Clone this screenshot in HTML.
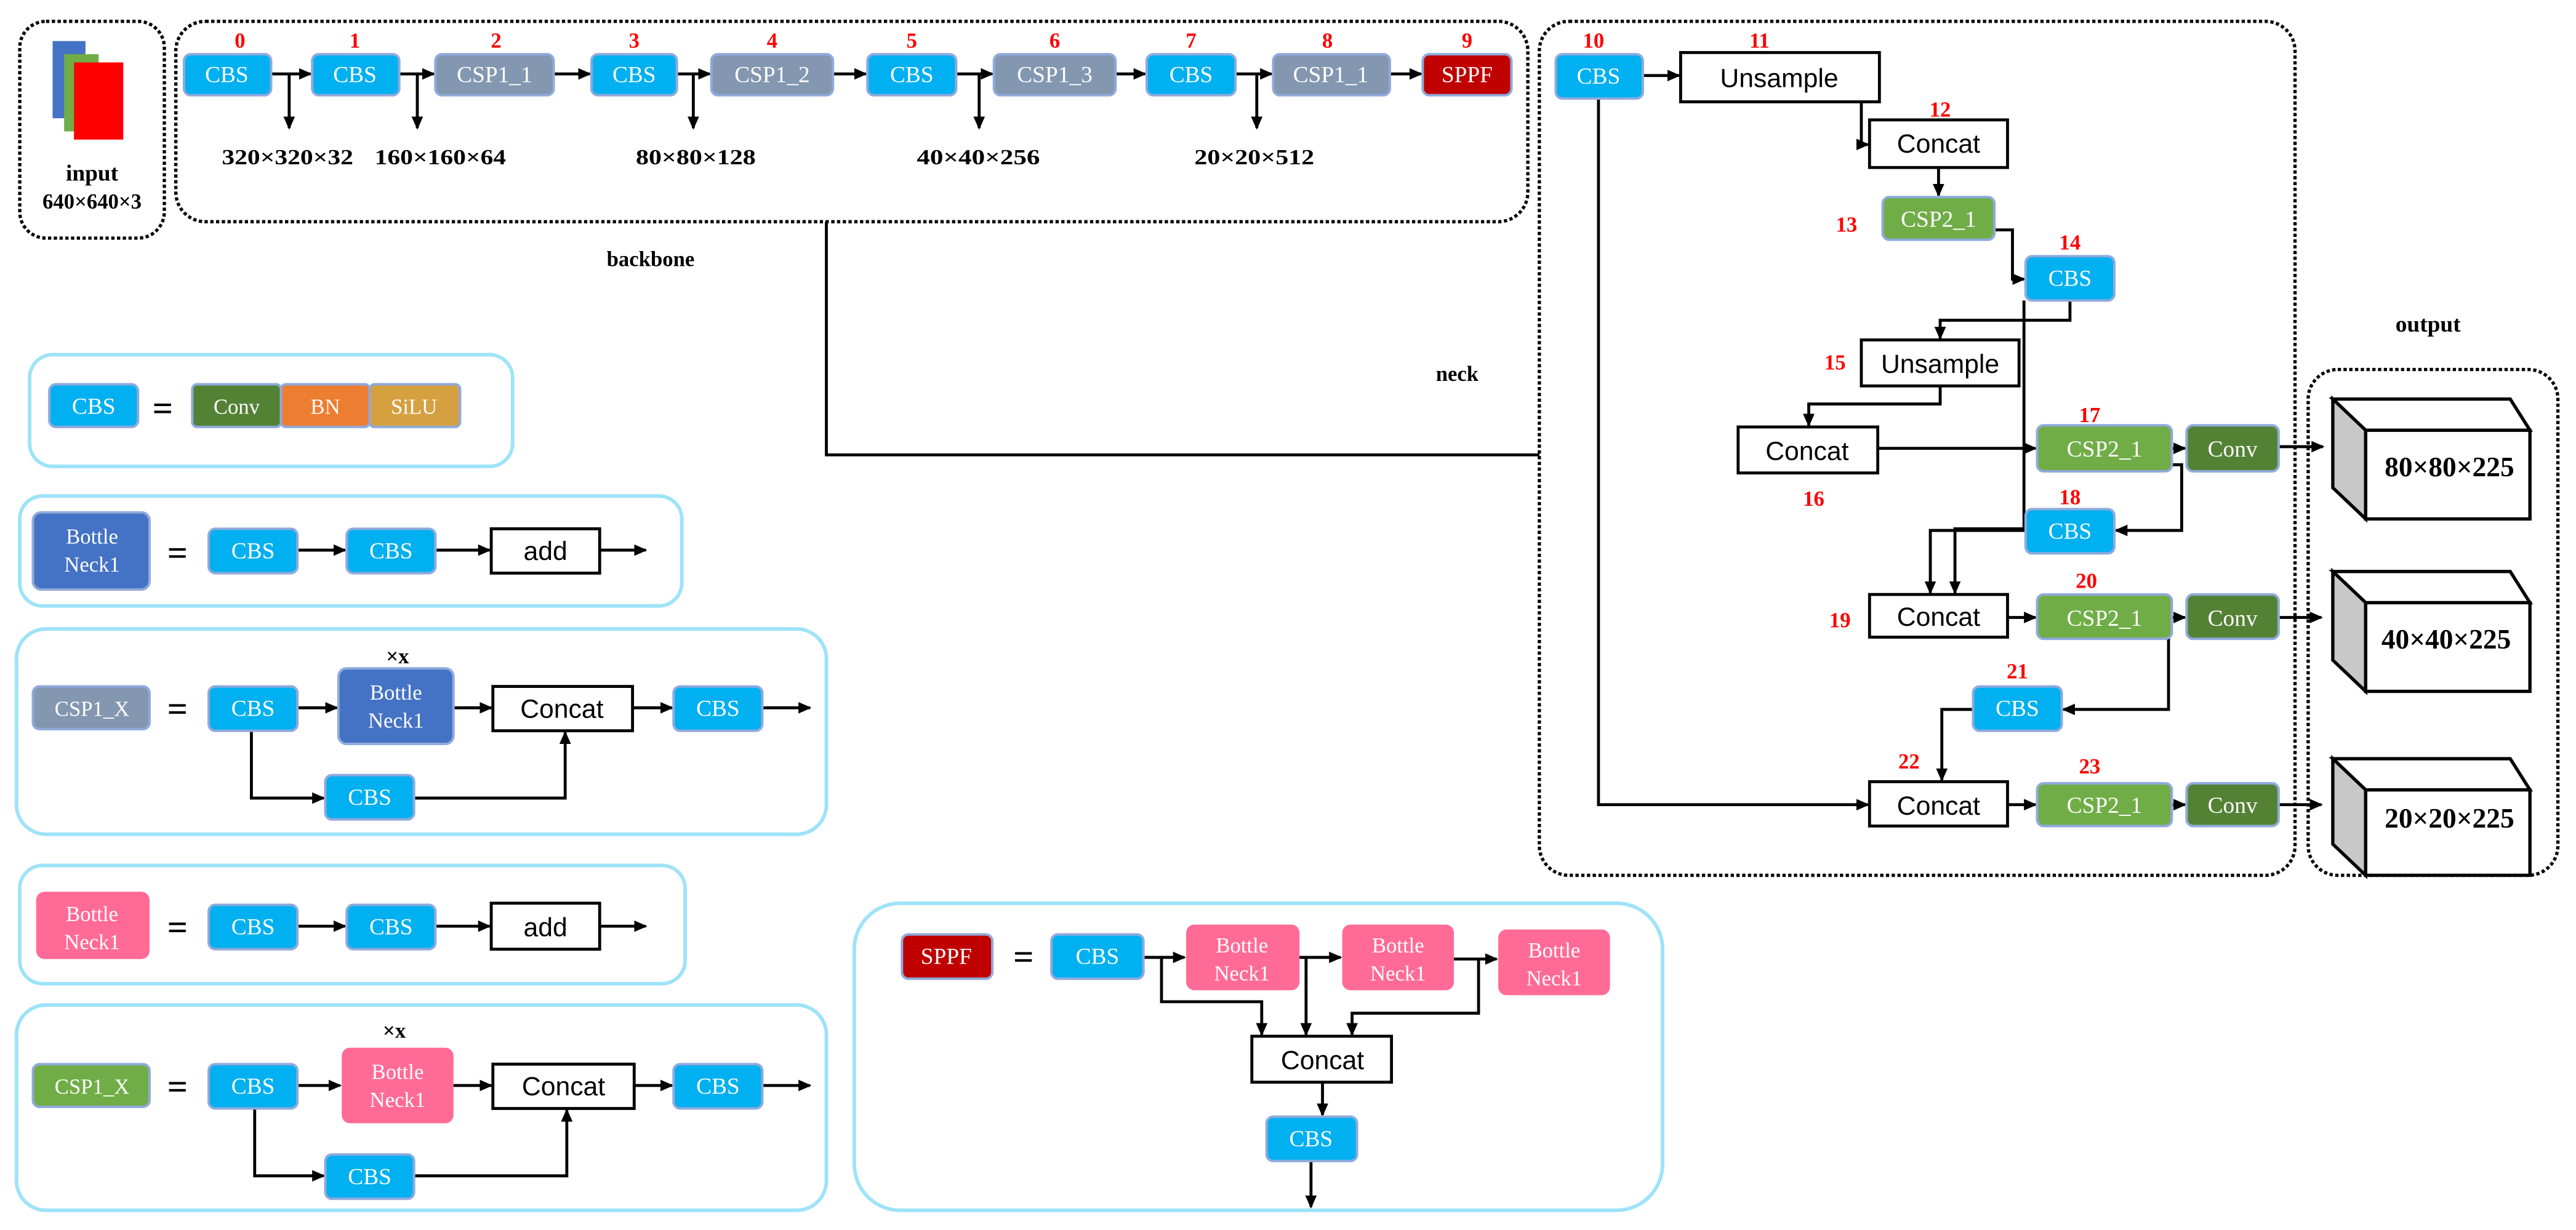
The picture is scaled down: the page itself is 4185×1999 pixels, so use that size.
<!DOCTYPE html>
<html><head><meta charset="utf-8"><style>
html,body{margin:0;padding:0;background:#fff;}
svg{display:block;}
.s{font-family:"Liberation Serif",serif;}
.a{font-family:"Liberation Sans",sans-serif;}
</style></head><body>
<svg width="4185" height="1999" viewBox="0 0 1568 749" xmlns="http://www.w3.org/2000/svg">
<defs>
<marker id="ar" markerWidth="8" markerHeight="8" refX="7" refY="4" orient="auto" markerUnits="userSpaceOnUse">
<path d="M0,0.5 L8,4 L0,7.5 z" fill="#000"/></marker>
</defs>
<g fill="none" stroke="#000" stroke-width="2" stroke-dasharray="2,1.5">
<rect x="12" y="13" width="88" height="132" rx="16"/>
<rect x="107" y="13" width="823" height="122" rx="18"/>
<rect x="937" y="13" width="460" height="520" rx="18"/>
<rect x="1405" y="225" width="152" height="308" rx="18"/>
</g>
<rect x="32" y="25" width="20" height="47" fill="#4472c4"/>
<rect x="39" y="33" width="21" height="47" fill="#70ad47"/>
<rect x="45" y="38" width="30" height="47" fill="#ff0000"/>
<g class="s" font-weight="bold" text-anchor="middle" fill="#000">
<text x="56" y="110" font-size="14">input</text>
<text x="56" y="127" font-size="13">640×640×3</text>
<text x="396" y="162" font-size="13">backbone</text>
<text x="887" y="232" font-size="13">neck</text>
<text x="1478" y="202" font-size="14">output</text>
</g>
<g class="s" font-weight="bold" font-size="13" fill="#000" textLength="80">
<text x="135" y="100" textLength="80" lengthAdjust="spacingAndGlyphs">320×320×32</text>
<text x="228" y="100" textLength="80" lengthAdjust="spacingAndGlyphs">160×160×64</text>
<text x="387" y="100" textLength="73" lengthAdjust="spacingAndGlyphs">80×80×128</text>
<text x="558" y="100" textLength="75" lengthAdjust="spacingAndGlyphs">40×40×256</text>
<text x="727" y="100" textLength="73" lengthAdjust="spacingAndGlyphs">20×20×512</text>
</g>
<g stroke="#000" stroke-width="1.8" fill="none">
<line x1="165" y1="45" x2="189" y2="45" marker-end="url(#ar)"/>
<line x1="243" y1="45" x2="264" y2="45" marker-end="url(#ar)"/>
<line x1="337" y1="45" x2="359" y2="45" marker-end="url(#ar)"/>
<line x1="412" y1="45" x2="432" y2="45" marker-end="url(#ar)"/>
<line x1="507" y1="45" x2="527" y2="45" marker-end="url(#ar)"/>
<line x1="582" y1="45" x2="604" y2="45" marker-end="url(#ar)"/>
<line x1="679" y1="45" x2="697" y2="45" marker-end="url(#ar)"/>
<line x1="752" y1="45" x2="774" y2="45" marker-end="url(#ar)"/>
<line x1="846" y1="45" x2="865" y2="45" marker-end="url(#ar)"/>
<line x1="176" y1="45" x2="176" y2="78" marker-end="url(#ar)"/>
<line x1="254" y1="45" x2="254" y2="78" marker-end="url(#ar)"/>
<line x1="422" y1="45" x2="422" y2="78" marker-end="url(#ar)"/>
<line x1="596" y1="45" x2="596" y2="78" marker-end="url(#ar)"/>
<line x1="765" y1="45" x2="765" y2="78" marker-end="url(#ar)"/>
<polyline points="503,135 503,277 937,277"/>
<line x1="1000" y1="46" x2="1022" y2="46" marker-end="url(#ar)"/>
<polyline points="1133,62 1133,88 1137,88" marker-end="url(#ar)"/>
<line x1="1180" y1="102" x2="1180" y2="119" marker-end="url(#ar)"/>
<polyline points="1214,140 1225,140 1225,170 1232,170" marker-end="url(#ar)"/>
<polyline points="1260,183 1260,195 1181,195 1181,206" marker-end="url(#ar)"/>
<polyline points="1232,183 1232,322 1190,322 1190,361" marker-end="url(#ar)"/>
<polyline points="1181,235 1181,246 1101,246 1101,259" marker-end="url(#ar)"/>
<line x1="1143" y1="273" x2="1239" y2="273" marker-end="url(#ar)"/>
<line x1="1322" y1="273" x2="1330" y2="273" marker-end="url(#ar)"/>
<line x1="1387" y1="272" x2="1414" y2="272" marker-end="url(#ar)"/>
<polyline points="1322,283 1328,283 1328,323 1288,323" marker-end="url(#ar)"/>
<polyline points="1233,323 1175,323 1175,361" marker-end="url(#ar)"/>
<line x1="1222" y1="376" x2="1239" y2="376" marker-end="url(#ar)"/>
<line x1="1322" y1="376" x2="1330" y2="376" marker-end="url(#ar)"/>
<line x1="1387" y1="376" x2="1413" y2="376" marker-end="url(#ar)"/>
<polyline points="1322,385 1320,385 1320,432 1256,432" marker-end="url(#ar)"/>
<polyline points="1201,432 1182,432 1182,475" marker-end="url(#ar)"/>
<polyline points="973,60 973,490 1137,490" marker-end="url(#ar)"/>
<line x1="1222" y1="490" x2="1239" y2="490" marker-end="url(#ar)"/>
<line x1="1322" y1="490" x2="1330" y2="490" marker-end="url(#ar)"/>
<line x1="1387" y1="490" x2="1413" y2="490" marker-end="url(#ar)"/>
<line x1="181" y1="335" x2="210" y2="335" marker-end="url(#ar)"/>
<line x1="265" y1="335" x2="298" y2="335" marker-end="url(#ar)"/>
<line x1="365" y1="335" x2="393" y2="335" marker-end="url(#ar)"/>
<line x1="181" y1="431" x2="205" y2="431" marker-end="url(#ar)"/>
<line x1="276" y1="431" x2="299" y2="431" marker-end="url(#ar)"/>
<line x1="385" y1="431" x2="409" y2="431" marker-end="url(#ar)"/>
<line x1="464" y1="431" x2="493" y2="431" marker-end="url(#ar)"/>
<polyline points="153,445 153,486 197,486" marker-end="url(#ar)"/>
<polyline points="252,486 344,486 344,446" marker-end="url(#ar)"/>
<line x1="181" y1="564" x2="210" y2="564" marker-end="url(#ar)"/>
<line x1="265" y1="564" x2="298" y2="564" marker-end="url(#ar)"/>
<line x1="365" y1="564" x2="393" y2="564" marker-end="url(#ar)"/>
<line x1="181" y1="661" x2="207" y2="661" marker-end="url(#ar)"/>
<line x1="276" y1="661" x2="299" y2="661" marker-end="url(#ar)"/>
<line x1="386" y1="661" x2="409" y2="661" marker-end="url(#ar)"/>
<line x1="464" y1="661" x2="493" y2="661" marker-end="url(#ar)"/>
<polyline points="155,675 155,716 197,716" marker-end="url(#ar)"/>
<polyline points="252,716 345,716 345,676" marker-end="url(#ar)"/>
<line x1="696" y1="583" x2="721" y2="583" marker-end="url(#ar)"/>
<line x1="791" y1="583" x2="816" y2="583" marker-end="url(#ar)"/>
<line x1="885" y1="584" x2="911" y2="584" marker-end="url(#ar)"/>
<polyline points="707,583 707,610 768,610 768,630" marker-end="url(#ar)"/>
<line x1="795" y1="583" x2="795" y2="630" marker-end="url(#ar)"/>
<polyline points="900,584 900,617 823,617 823,630" marker-end="url(#ar)"/>
<line x1="805" y1="659" x2="805" y2="679" marker-end="url(#ar)"/>
<line x1="798" y1="707" x2="798" y2="735" marker-end="url(#ar)"/>
</g>
<g fill="none" stroke="#9ee3f8" stroke-width="2.2">
<rect x="18" y="216" width="294" height="68" rx="14"/>
<rect x="12" y="302" width="403" height="67" rx="14"/>
<rect x="10" y="383" width="493" height="125" rx="18"/>
<rect x="12" y="527" width="405" height="72" rx="14"/>
<rect x="10" y="612" width="493" height="125" rx="18"/>
<rect x="520" y="550" width="492" height="187" rx="28"/>
</g>
<g fill="#fff" stroke="#000" stroke-width="1.8">
<rect x="1023" y="32" width="121" height="30"/>
<rect x="1138" y="73" width="84" height="29"/>
<rect x="1133" y="207" width="96" height="28"/>
<rect x="1058" y="260" width="85" height="28"/>
<rect x="1138" y="362" width="84" height="26"/>
<rect x="1138" y="476" width="84" height="27"/>
<rect x="299" y="322" width="66" height="27"/>
<rect x="300" y="418" width="85" height="27"/>
<rect x="299" y="550" width="66" height="28"/>
<rect x="300" y="648" width="86" height="27"/>
<rect x="762" y="631" width="85" height="28"/>
</g>
<g class="a" font-size="16" fill="#000" text-anchor="middle">
<text x="1083" y="53">Unsample</text>
<text x="1180" y="93">Concat</text>
<text x="1181" y="227">Unsample</text>
<text x="1100" y="280">Concat</text>
<text x="1180" y="381">Concat</text>
<text x="1180" y="496">Concat</text>
<text x="332" y="341">add</text>
<text x="342" y="437">Concat</text>
<text x="332" y="570">add</text>
<text x="343" y="667">Concat</text>
<text x="805" y="651">Concat</text>
</g>
<g stroke="#8faadc" stroke-width="1.5">
<g fill="#00b0f0">
<rect x="112" y="33" width="53" height="25" rx="4"/>
<rect x="190" y="33" width="53" height="25" rx="4"/>
<rect x="360" y="33" width="52" height="25" rx="4"/>
<rect x="528" y="33" width="54" height="25" rx="4"/>
<rect x="698" y="33" width="54" height="25" rx="4"/>
<rect x="947" y="33" width="53" height="27" rx="4"/>
<rect x="1233" y="156" width="54" height="27" rx="4"/>
<rect x="1233" y="310" width="54" height="27" rx="4"/>
<rect x="1201" y="418" width="54" height="27" rx="4"/>
<rect x="30" y="234" width="54" height="26" rx="4"/>
<rect x="127" y="322" width="54" height="27" rx="4"/>
<rect x="211" y="322" width="54" height="27" rx="4"/>
<rect x="127" y="418" width="54" height="27" rx="4"/>
<rect x="410" y="418" width="54" height="27" rx="4"/>
<rect x="198" y="472" width="54" height="27" rx="4"/>
<rect x="127" y="551" width="54" height="27" rx="4"/>
<rect x="211" y="551" width="54" height="27" rx="4"/>
<rect x="127" y="648" width="54" height="27" rx="4"/>
<rect x="410" y="648" width="54" height="27" rx="4"/>
<rect x="198" y="703" width="54" height="27" rx="4"/>
<rect x="640" y="569" width="56" height="27" rx="4"/>
<rect x="771" y="680" width="55" height="27" rx="4"/>
</g>
<g fill="#8497b0">
<rect x="265" y="33" width="72" height="25" rx="4"/>
<rect x="433" y="33" width="74" height="25" rx="4"/>
<rect x="605" y="33" width="74" height="25" rx="4"/>
<rect x="775" y="33" width="71" height="25" rx="4"/>
<rect x="20" y="418" width="71" height="26" rx="4"/>
</g>
<g fill="#70ad47">
<rect x="1146" y="120" width="68" height="26" rx="4"/>
<rect x="1240" y="259" width="82" height="28" rx="4"/>
<rect x="1240" y="362" width="82" height="27" rx="4"/>
<rect x="1240" y="477" width="82" height="26" rx="4"/>
<rect x="20" y="648" width="71" height="26" rx="4"/>
</g>
<g fill="#548235">
<rect x="1331" y="259" width="56" height="28" rx="4"/>
<rect x="1331" y="362" width="56" height="27" rx="4"/>
<rect x="1331" y="477" width="56" height="26" rx="4"/>
<rect x="117" y="234" width="54" height="26" rx="3"/>
</g>
<rect x="171" y="234" width="54" height="26" rx="3" fill="#ed7d31"/>
<rect x="225" y="234" width="55" height="26" rx="3" fill="#d4a040"/>
<rect x="866" y="33" width="54" height="25" rx="4" fill="#c00000"/>
<rect x="549" y="569" width="55" height="27" rx="4" fill="#c00000"/>
<rect x="20" y="312" width="71" height="47" rx="5" fill="#4472c4"/>
<rect x="206" y="407" width="70" height="46" rx="5" fill="#4472c4"/>
</g>
<g fill="#ff6b96">
<rect x="22" y="543" width="69" height="41" rx="5"/>
<rect x="208" y="638" width="68" height="46" rx="5"/>
<rect x="722" y="563" width="69" height="40" rx="5"/>
<rect x="817" y="563" width="68" height="40" rx="5"/>
<rect x="912" y="566" width="68" height="40" rx="5"/>
</g>
<g class="s" fill="#fff" font-size="14" text-anchor="middle">
<text x="138" y="50">CBS</text><text x="216" y="50">CBS</text>
<text x="301" y="50">CSP1_1</text><text x="386" y="50">CBS</text>
<text x="470" y="50">CSP1_2</text><text x="555" y="50">CBS</text>
<text x="642" y="50">CSP1_3</text><text x="725" y="50">CBS</text>
<text x="810" y="50">CSP1_1</text><text x="893" y="50">SPPF</text>
<text x="973" y="51">CBS</text><text x="1180" y="138">CSP2_1</text>
<text x="1260" y="174">CBS</text><text x="1281" y="278">CSP2_1</text>
<text x="1359" y="278">Conv</text><text x="1260" y="328">CBS</text>
<text x="1281" y="381">CSP2_1</text><text x="1359" y="381">Conv</text>
<text x="1228" y="436">CBS</text><text x="1281" y="495">CSP2_1</text>
<text x="1359" y="495">Conv</text>
<text x="57" y="252">CBS</text>
<text x="144" y="252" font-size="13">Conv</text>
<text x="198" y="252" font-size="13">BN</text>
<text x="252" y="252" font-size="13">SiLU</text>
<text x="56" y="331" font-size="13">Bottle</text><text x="56" y="348" font-size="13">Neck1</text>
<text x="154" y="340">CBS</text><text x="238" y="340">CBS</text>
<text x="56" y="436" font-size="13">CSP1_X</text>
<text x="154" y="436">CBS</text>
<text x="241" y="426" font-size="13">Bottle</text><text x="241" y="443" font-size="13">Neck1</text>
<text x="437" y="436">CBS</text><text x="225" y="490">CBS</text>
<text x="56" y="561" font-size="13">Bottle</text><text x="56" y="578" font-size="13">Neck1</text>
<text x="154" y="569">CBS</text><text x="238" y="569">CBS</text>
<text x="56" y="666" font-size="13">CSP1_X</text>
<text x="154" y="666">CBS</text>
<text x="242" y="657" font-size="13">Bottle</text><text x="242" y="674" font-size="13">Neck1</text>
<text x="437" y="666">CBS</text><text x="225" y="721">CBS</text>
<text x="576" y="587">SPPF</text><text x="668" y="587">CBS</text>
<text x="756" y="580" font-size="13">Bottle</text><text x="756" y="597" font-size="13">Neck1</text>
<text x="851" y="580" font-size="13">Bottle</text><text x="851" y="597" font-size="13">Neck1</text>
<text x="946" y="583" font-size="13">Bottle</text><text x="946" y="600" font-size="13">Neck1</text>
<text x="798" y="698">CBS</text>
</g>
<g class="s" font-weight="bold" font-size="22" fill="#000" text-anchor="middle">
<text x="99" y="256">=</text><text x="108" y="344">=</text><text x="108" y="439">=</text>
<text x="108" y="572">=</text><text x="108" y="669">=</text><text x="623" y="590">=</text>
</g>
<g class="s" font-weight="bold" font-size="13" fill="#000" text-anchor="middle">
<text x="242" y="404">×x</text><text x="240" y="632">×x</text>
</g>
<g class="s" font-weight="bold" font-size="13" fill="#ff0000" text-anchor="middle">
<text x="146" y="29">0</text><text x="216" y="29">1</text><text x="302" y="29">2</text>
<text x="386" y="29">3</text><text x="470" y="29">4</text><text x="555" y="29">5</text>
<text x="642" y="29">6</text><text x="725" y="29">7</text><text x="808" y="29">8</text>
<text x="893" y="29">9</text><text x="970" y="29">10</text><text x="1071" y="29">11</text>
<text x="1181" y="71">12</text><text x="1124" y="141">13</text><text x="1260" y="152">14</text>
<text x="1117" y="225">15</text><text x="1104" y="308">16</text><text x="1272" y="257">17</text>
<text x="1260" y="307">18</text><text x="1120" y="382">19</text><text x="1270" y="358">20</text>
<text x="1228" y="413">21</text><text x="1162" y="468">22</text><text x="1272" y="471">23</text>
</g>
<g stroke="#000" stroke-width="2">
<polygon points="1420,243 1528,243 1540,262 1440,262" fill="#fff"/>
<polygon points="1420,243 1440,262 1440,316 1420,297" fill="#c8c8c8"/>
<rect x="1440" y="262" width="100" height="54" fill="#fff"/>
<polygon points="1420,348 1528,348 1540,367 1440,367" fill="#fff"/>
<polygon points="1420,348 1440,367 1440,421 1420,402" fill="#c8c8c8"/>
<rect x="1440" y="367" width="100" height="54" fill="#fff"/>
<polygon points="1420,462 1528,462 1540,481 1440,481" fill="#fff"/>
<polygon points="1420,462 1440,481 1440,533 1420,514" fill="#c8c8c8"/>
<rect x="1440" y="481" width="100" height="52" fill="#fff"/>
</g>
<g class="s" font-weight="bold" font-size="17" fill="#000" text-anchor="middle">
<text x="1491" y="290">80×80×225</text>
<text x="1489" y="395">40×40×225</text>
<text x="1491" y="504">20×20×225</text>
</g>
</svg>
</body></html>
